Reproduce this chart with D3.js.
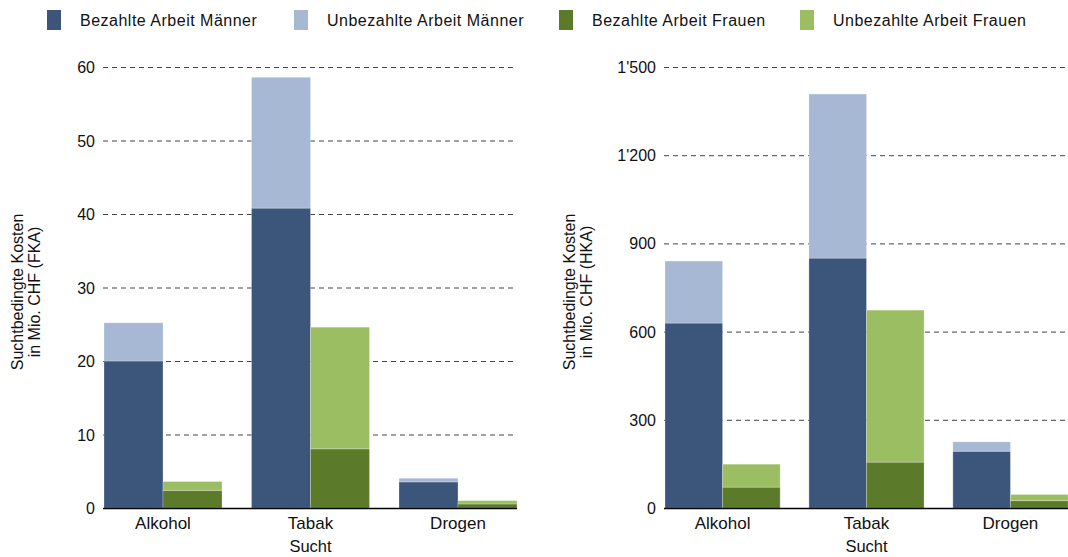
<!DOCTYPE html>
<html>
<head>
<meta charset="utf-8">
<script src="https://d3js.org/d3.v7.min.js"></script>
<style>
  body { margin: 0; background: #fff; }
  svg text { font-family: "Liberation Sans", Arial, sans-serif; fill: #111; }
  .grid line { stroke: #444; stroke-dasharray: 5,4; stroke-width: 1; }
</style>
</head>
<body>
<svg id="chart" width="1068" height="557"></svg>
<script>
// data
var categories = ["Alkohol", "Tabak", "Drogen"];
var seriesNames = ["Bezahlte Arbeit Männer", "Unbezahlte Arbeit Männer", "Bezahlte Arbeit Frauen", "Unbezahlte Arbeit Frauen"];
var colors = ["#3b557b", "#a7b8d4", "#5b7a2a", "#9bbe63"];

// FKA (Mio. CHF)
var fkaMenPaid = [20.0, 40.8, 3.55];
var fkaMenUnpaid = [5.2, 17.8, 0.5];
var fkaWomenPaid = [2.4, 8.05, 0.55];
var fkaWomenUnpaid = [1.2, 16.55, 0.45];
var fkaTicks = [0, 10, 20, 30, 40, 50, 60];

// HKA (Mio. CHF)
var hkaMenPaid = [629, 850, 193];
var hkaMenUnpaid = [211, 558, 32];
var hkaWomenPaid = [71, 156, 25];
var hkaWomenUnpaid = [78, 517, 21];
var hkaTicks = [0, 300, 600, 900, 1200, 1500];

var swiss = d3.formatLocale({ decimal: ".", thousands: "'", grouping: [3], currency: ["", ""] });
var fmt = swiss.format(",");

var svg = d3.select("#chart");

// legend
var legendX = [47, 294, 559, 800];
var legend = svg.append("g").attr("class", "legend");
seriesNames.forEach(function (name, i) {
    legend.append("rect")
        .attr("x", legendX[i]).attr("y", 10)
        .attr("width", 14).attr("height", 20)
        .attr("fill", colors[i]);
    legend.append("text")
        .attr("x", legendX[i] + 33).attr("y", 26)
        .attr("font-size", 16)
        .attr("letter-spacing", 0.5)
        .text(name);
});

function drawPanel(opts) {
    var g = svg.append("g");

    var x = d3.scaleBand()
        .domain(categories)
        .range([opts.x0, opts.x1])
        .paddingInner(0.2)
        .paddingOuter(0);

    var y = d3.scaleLinear()
        .domain([0, opts.ticks[opts.ticks.length - 1]])
        .range([508, 67]);

    // grid
    var grid = g.append("g").attr("class", "grid");
    grid.selectAll("line")
        .data(opts.ticks.filter(function (t) { return t > 0; }))
        .enter().append("line")
        .attr("x1", opts.x0 - 1).attr("x2", opts.x1)
        .attr("y1", function (d) { return y(d) + 0.5; })
        .attr("y2", function (d) { return y(d) + 0.5; });

    // y tick labels
    g.selectAll(".ylab")
        .data(opts.ticks)
        .enter().append("text")
        .attr("class", "ylab")
        .attr("x", opts.x0 - 9)
        .attr("y", function (d) { return y(d) + 6; })
        .attr("text-anchor", "end")
        .attr("font-size", 16)
        .text(function (d) { return fmt(d); });

    var half = x.bandwidth() / 2;
    var rows = categories.map(function (c, i) {
        return {
            cat: c,
            men: [opts.menPaid[i], opts.menUnpaid[i]],
            women: [opts.womenPaid[i], opts.womenUnpaid[i]]
        };
    });

    rows.forEach(function (r) {
        [[r.men, 0, 0], [r.women, 2, half]].forEach(function (grp) {
            var base = 0;
            grp[0].forEach(function (v, k) {
                g.append("rect")
                    .attr("x", x(r.cat) + grp[2])
                    .attr("width", half)
                    .attr("y", y(base + v))
                    .attr("height", y(base) - y(base + v))
                    .attr("fill", colors[grp[1] + k])
                    .attr("stroke", "#ffffff")
                    .attr("stroke-opacity", 0.25)
                    .attr("stroke-width", 1);
                base += v;
            });
        });
    });

    // baseline
    g.append("line")
        .attr("x1", opts.x0 - 1).attr("x2", opts.x1)
        .attr("y1", y(0) + 0.5).attr("y2", y(0) + 0.5)
        .attr("stroke", "#000").attr("stroke-width", 1.5);

    // x labels
    g.selectAll(".xlab")
        .data(categories)
        .enter().append("text")
        .attr("x", function (d) { return x(d) + half; })
        .attr("y", 529)
        .attr("text-anchor", "middle")
        .attr("font-size", 17)
        .text(function (d) { return d; });

    g.append("text")
        .attr("x", x("Tabak") + half)
        .attr("y", 552)
        .attr("text-anchor", "middle")
        .attr("font-size", 16.5)
        .text("Sucht");

    // y title
    var t = g.append("text")
        .attr("transform", "translate(" + opts.titleX + ",292) rotate(-90)")
        .attr("text-anchor", "middle")
        .attr("font-size", 16);
    t.append("tspan").attr("x", 0).attr("dy", 0).text("Suchtbedingte Kosten");
    t.append("tspan").attr("x", 0).attr("dy", 17).text(opts.unit);
}

drawPanel({
    x0: 104, x1: 517, titleX: 23,
    ticks: fkaTicks,
    menPaid: fkaMenPaid, menUnpaid: fkaMenUnpaid,
    womenPaid: fkaWomenPaid, womenUnpaid: fkaWomenUnpaid,
    unit: "in Mio. CHF (FKA)"
});

drawPanel({
    x0: 665, x1: 1068, titleX: 575,
    ticks: hkaTicks,
    menPaid: hkaMenPaid, menUnpaid: hkaMenUnpaid,
    womenPaid: hkaWomenPaid, womenUnpaid: hkaWomenUnpaid,
    unit: "in Mio. CHF (HKA)"
});
</script>
</body>
</html>
